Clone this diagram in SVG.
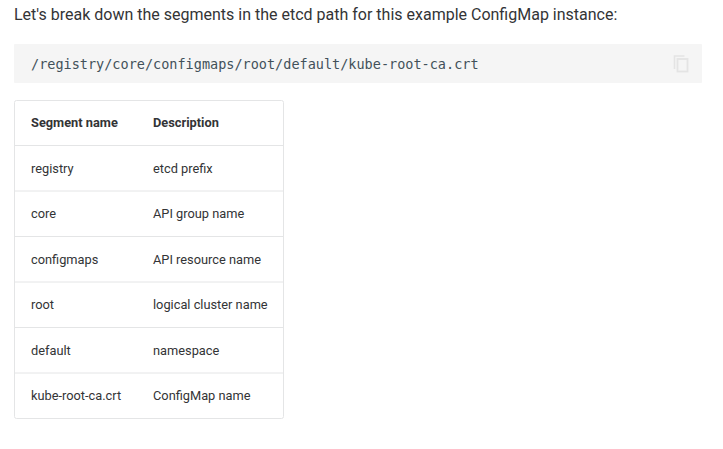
<svg xmlns="http://www.w3.org/2000/svg" width="723" height="449" viewBox="0 0 723 449">
<style>
text{font-family:Roboto,"Liberation Sans",sans-serif;fill:#333436}
.p{font-size:16px}
.t{font-size:12.8px}
.h{font-size:12.800px;font-weight:700}
.c{font-family:"DejaVu Sans Mono","Liberation Mono",monospace;font-size:13.520px;fill:#42515a}
.l{stroke:#e4e5e6;stroke-width:1;fill:none}
</style>
<rect width="723" height="449" fill="#fff"/>
<text class="p" x="14" y="20">Let's break down the segments in the etcd path for this example ConfigMap instance:</text>
<g id="code">
<rect x="14" y="44" width="688" height="39" rx="1" fill="#f5f5f5"/>
<text class="c" x="31" y="69">/registry/core/configmaps/root/default/kube-root-ca.crt</text>
<path d="M674.500 69V56h10" fill="none" stroke="#e4e4e4" stroke-width="1.600"/>
<rect x="677.500" y="59" width="10" height="12.500" fill="none" stroke="#e4e4e4" stroke-width="1.800"/>
</g>
<g id="table">
<rect class="l" x="14.500" y="100.500" width="269" height="318" rx="2"/>
<path class="l" d="M15 145.500H283M15 191H283M15 236.500H283M15 282H283M15 327.500H283M15 373H283"/>
<text class="h" x="31" y="127">Segment name</text><text class="h" x="153" y="127">Description</text>
<text class="t" x="31" y="172.500">registry</text><text class="t" x="153" y="172.500">etcd prefix</text>
<text class="t" x="31" y="218">core</text><text class="t" x="153" y="218">API group name</text>
<text class="t" x="31" y="263.500">configmaps</text><text class="t" x="153" y="263.500">API resource name</text>
<text class="t" x="31" y="309">root</text><text class="t" x="153" y="309">logical cluster name</text>
<text class="t" x="31" y="354.500">default</text><text class="t" x="153" y="354.500">namespace</text>
<text class="t" x="31" y="400">kube-root-ca.crt</text><text class="t" x="153" y="400">ConfigMap name</text>
</g>
</svg>
